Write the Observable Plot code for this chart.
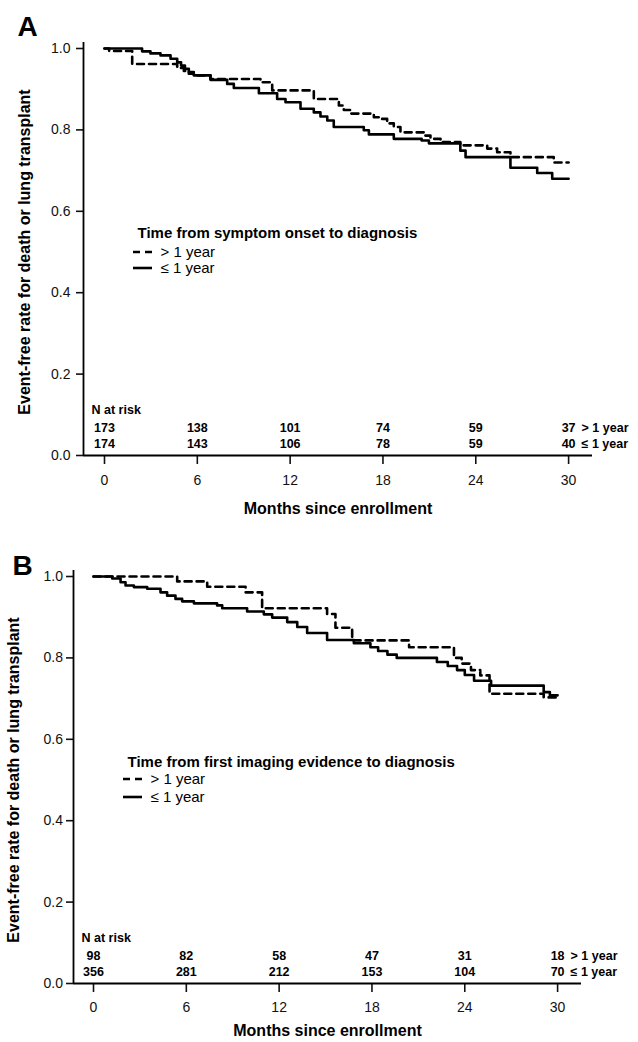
<!DOCTYPE html>
<html>
<head>
<meta charset="utf-8">
<script src="https://cdn.jsdelivr.net/npm/d3@7"></script>
<script src="https://cdn.jsdelivr.net/npm/@observablehq/plot@0.6"></script>
<style>
  html, body { margin: 0; padding: 0; background: #fff; }
  #chart svg { display: block; }
</style>
</head>
<body>
<div id="chart"></div>
<script>
// ---------- data ----------
const monthTicks = [0, 6, 12, 18, 24, 30];
const rateTicks = [0, 0.2, 0.4, 0.6, 0.8, 1.0];
const groupLabels = ["> 1 year", "\u2264 1 year"];
const xTitle = "Months since enrollment";
const yTitle = "Event-free rate for death or lung transplant";
const riskTitle = "N at risk";

// Panel A: time from symptom onset to diagnosis
const aLegendTitle = "Time from symptom onset to diagnosis";
const aLongTime = [0, 0.3, 1.79, 4.7, 5.13, 5.45, 5.77, 6.85, 10.08, 10.84, 13.53, 15.15, 15.47, 15.9, 17.41, 17.84, 18.27, 18.7, 19.13, 20.64, 21.07, 21.72, 23.0, 24.74, 25.38, 26.24, 29.04, 30];
const aLongRate = [1.0, 0.994, 0.962, 0.952, 0.945, 0.938, 0.934, 0.925, 0.917, 0.897, 0.876, 0.86, 0.849, 0.84, 0.831, 0.827, 0.816, 0.807, 0.794, 0.786, 0.778, 0.77, 0.762, 0.754, 0.745, 0.733, 0.72, 0.72];
const aShortTime = [0, 2.43, 2.97, 3.62, 4.27, 4.7, 4.95, 5.2, 5.45, 5.77, 6.85, 7.93, 8.36, 9.98, 11.16, 11.7, 12.67, 13.53, 13.96, 14.4, 14.82, 16.76, 17.09, 18.7, 20.5, 20.97, 23.0, 23.34, 26.24, 27.97, 28.94, 30];
const aShortRate = [1.0, 0.993, 0.988, 0.983, 0.975, 0.966, 0.958, 0.95, 0.942, 0.934, 0.923, 0.913, 0.903, 0.89, 0.876, 0.868, 0.852, 0.843, 0.833, 0.823, 0.807, 0.799, 0.789, 0.778, 0.774, 0.767, 0.749, 0.733, 0.707, 0.694, 0.68, 0.68];
const aRiskLong = [173, 138, 101, 74, 59, 37];
const aRiskShort = [174, 143, 106, 78, 59, 40];

// Panel B: time from first imaging evidence to diagnosis
const bLegendTitle = "Time from first imaging evidence to diagnosis";
const bLongTime = [0, 5.41, 7.35, 9.83, 10.9, 15.1, 15.64, 16.72, 20.4, 23.3, 23.8, 24.4, 25.0, 25.6, 29.1, 30];
const bLongRate = [1.0, 0.988, 0.975, 0.961, 0.922, 0.908, 0.874, 0.843, 0.826, 0.80, 0.786, 0.77, 0.757, 0.712, 0.703, 0.703];
const bShortTime = [0, 1.21, 1.75, 2.07, 2.61, 3.47, 4.33, 4.76, 5.3, 5.73, 6.49, 7.99, 8.32, 9.93, 11.01, 11.55, 12.52, 13.17, 13.81, 15.1, 16.83, 17.9, 18.4, 19.0, 19.6, 22.2, 22.9, 23.5, 24.0, 24.6, 25.7, 29.1, 29.5, 30];
const bShortRate = [1.0, 0.995, 0.986, 0.978, 0.974, 0.970, 0.961, 0.953, 0.945, 0.939, 0.934, 0.929, 0.922, 0.914, 0.907, 0.899, 0.888, 0.876, 0.861, 0.844, 0.836, 0.826, 0.817, 0.808, 0.80, 0.79, 0.78, 0.77, 0.758, 0.744, 0.732, 0.716, 0.708, 0.708];
const bRiskLong = [98, 82, 58, 47, 31, 18];
const bRiskShort = [356, 281, 212, 153, 104, 70];

// ---------- drawing ----------
const FONT = "'Liberation Sans', Arial, Helvetica, sans-serif";
const W = 638;
const PX_PER_MONTH = 15.47;

function panel(o) {
  const series = (t, r) => t.map((m, i) => ({m, v: r[i]}));
  const risk = (arr) => arr.map((n, i) => ({m: monthTicks[i], n}));
  const frameW = W - o.marginLeft - o.marginRight;
  const xMin = -(o.zeroPx - o.marginLeft) / PX_PER_MONTH;
  const xMax = xMin + frameW / PX_PER_MONTH;
  const last = monthTicks[monthTicks.length - 1];

  const legendSwatches = (index, scales, values, dims) => {
    const g = d3.create("svg:g");
    [[o.legendDy1, "7,5"], [o.legendDy2, null]].forEach(([dy, dash]) => {
      const ln = g.append("line")
        .attr("x1", dims.marginLeft + 50).attr("x2", dims.marginLeft + 69)
        .attr("y1", dims.marginTop + dy).attr("y2", dims.marginTop + dy)
        .attr("stroke", "#000").attr("stroke-width", 2.6);
      if (dash) ln.attr("stroke-dasharray", dash);
    });
    return g.node();
  };

  const txt = {fill: "#000", lineAnchor: "middle"};

  return Plot.plot({
    width: W,
    height: o.height,
    marginTop: 48,
    marginLeft: o.marginLeft,
    marginRight: o.marginRight,
    marginBottom: o.marginBottom,
    style: {fontFamily: FONT, fontSize: "14px", color: "#111", background: "#fff", overflow: "visible"},
    x: {domain: [xMin, xMax]},
    y: {domain: [0, 1]},
    marks: [
      Plot.axisX({ticks: monthTicks, tickSize: 9, tickPadding: o.xTickPad, tickFormat: d => String(d), label: null, strokeWidth: 1.6, fontSize: 14}),
      Plot.axisY({ticks: rateTicks, tickSize: 7, tickPadding: o.yTickPad, tickFormat: d3.format(".1f"), label: null, strokeWidth: 1.6, fontSize: 14}),
      Plot.ruleY([0], {stroke: "#000", strokeWidth: 1.8}),
      Plot.ruleX([xMin], {y1: 0, y2: 1.015, stroke: "#000", strokeWidth: 1.8}),
      Plot.line(series(o.longTime, o.longRate), {x: "m", y: "v", curve: "step-after", stroke: "#000", strokeWidth: 2.6, strokeDasharray: "7,5"}),
      Plot.line(series(o.shortTime, o.shortRate), {x: "m", y: "v", curve: "step-after", stroke: "#000", strokeWidth: 2.6}),
      // panel letter
      Plot.text([o.letter], {...txt, text: d => d, frameAnchor: "top-left", dx: o.letterDx, dy: o.letterDy, textAnchor: "start", fontSize: 28, fontWeight: "bold"}),
      // axis titles
      Plot.text([yTitle], {...txt, text: d => d, frameAnchor: "left", dx: o.yTitleDx, rotate: -90, textAnchor: "middle", fontSize: 16, fontWeight: "bold"}),
      Plot.text([xTitle], {...txt, text: d => d, frameAnchor: "bottom", dy: o.xTitleDy, textAnchor: "middle", fontSize: 16, fontWeight: "bold"}),
      // legend
      Plot.text([o.legendTitle], {...txt, text: d => d, frameAnchor: "top-left", dx: 54, dy: o.legendDy0, textAnchor: "start", fontSize: 15, fontWeight: "bold"}),
      Plot.text([groupLabels[0]], {...txt, text: d => d, frameAnchor: "top-left", dx: 77, dy: o.legendDy1, textAnchor: "start", fontSize: 15}),
      Plot.text([groupLabels[1]], {...txt, text: d => d, frameAnchor: "top-left", dx: 77, dy: o.legendDy2, textAnchor: "start", fontSize: 15}),
      legendSwatches,
      // N at risk table
      Plot.text([riskTitle], {...txt, text: d => d, frameAnchor: "bottom-left", dx: 8, dy: -46, textAnchor: "start", fontSize: 12.5, fontWeight: "bold"}),
      Plot.text(risk(o.riskLong), {...txt, x: "m", text: "n", frameAnchor: "bottom", dy: -28, textAnchor: "middle", fontSize: 12.5, fontWeight: "bold"}),
      Plot.text(risk(o.riskShort), {...txt, x: "m", text: "n", frameAnchor: "bottom", dy: -12, textAnchor: "middle", fontSize: 12.5, fontWeight: "bold"}),
      Plot.text([{m: last, t: groupLabels[0]}], {...txt, x: "m", text: "t", frameAnchor: "bottom", dy: -28, dx: 13, textAnchor: "start", fontSize: 12.5, fontWeight: "bold"}),
      Plot.text([{m: last, t: groupLabels[1]}], {...txt, x: "m", text: "t", frameAnchor: "bottom", dy: -12, dx: 13, textAnchor: "start", fontSize: 12.5, fontWeight: "bold"})
    ]
  });
}

const chart = document.getElementById("chart");
chart.append(panel({
  letter: "A", height: 528, marginLeft: 83, marginRight: 46, marginBottom: 73, zeroPx: 104,
  letterDx: -66, letterDy: -21, yTitleDx: -59, xTitleDy: 53, xTickPad: 11, yTickPad: 6,
  legendTitle: aLegendTitle, legendDy0: 185, legendDy1: 204, legendDy2: 220,
  longTime: aLongTime, longRate: aLongRate, shortTime: aShortTime, shortRate: aShortRate,
  riskLong: aRiskLong, riskShort: aRiskShort
}));
chart.append(panel({
  letter: "B", height: 514, marginLeft: 73, marginRight: 57, marginBottom: 59, zeroPx: 93,
  letterDx: -61, letterDy: -10, yTitleDx: -60, xTitleDy: 47, xTickPad: 10, yTickPad: 3.5,
  legendTitle: bLegendTitle, legendDy0: 186, legendDy1: 203, legendDy2: 221,
  longTime: bLongTime, longRate: bLongRate, shortTime: bShortTime, shortRate: bShortRate,
  riskLong: bRiskLong, riskShort: bRiskShort
}));
</script>
</body>
</html>
